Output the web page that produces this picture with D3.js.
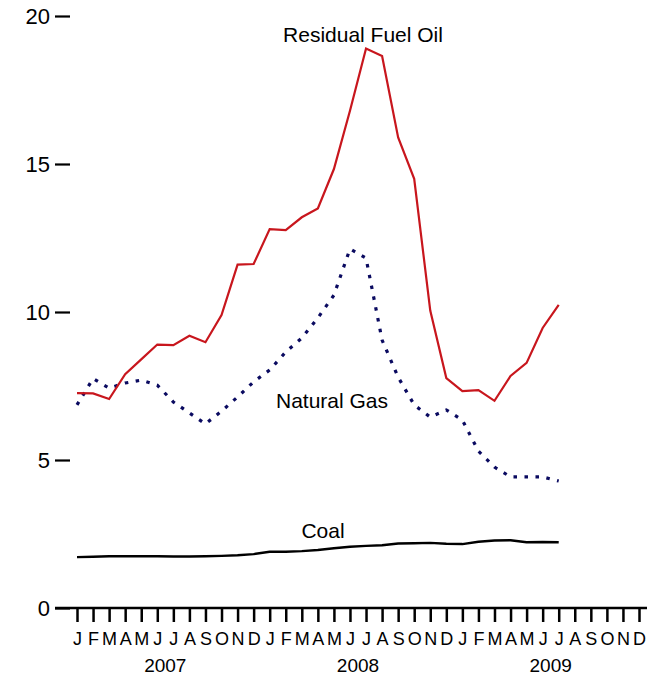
<!DOCTYPE html>
<html>
<head>
<meta charset="utf-8">
<script src="https://cdn.jsdelivr.net/npm/d3@7/dist/d3.min.js"></script>
<style>
  html, body { margin: 0; padding: 0; background: #fff; }
  svg { display: block; font-family: "Liberation Sans", Arial, Helvetica, sans-serif; }
</style>
</head>
<body>
<svg id="chart" width="655" height="677"></svg>
<script>
// Months Jan 2007 .. Dec 2009
const monthLetters = ["J","F","M","A","M","J","J","A","S","O","N","D"];
const years = ["2007", "2008", "2009"];
const yTicks = [0, 5, 10, 15, 20];

// Values Jan 2007 .. Jul 2009 (31 months)
const residualFuelOil = [7.26, 7.25, 7.06, 7.9, 8.4, 8.9, 8.88, 9.2, 8.98, 9.9, 11.6, 11.62,
                         12.8, 12.77, 13.2, 13.5, 14.83, 16.8, 18.9, 18.65, 15.9, 14.5, 10.05, 7.77,
                         7.33, 7.36, 7.0, 7.84, 8.28, 9.46, 10.24];
const naturalGas = [6.86, 7.75, 7.43, 7.6, 7.7, 7.53, 6.96, 6.59, 6.22, 6.65, 7.13, 7.64,
                    8.04, 8.65, 9.12, 9.8, 10.57, 12.13, 11.82, 9.05, 7.8, 6.86, 6.45, 6.69,
                    6.35, 5.3, 4.76, 4.43, 4.43, 4.43, 4.29];
const coal = [1.72, 1.73, 1.75, 1.75, 1.75, 1.75, 1.74, 1.74, 1.75, 1.76, 1.78, 1.82,
              1.9, 1.9, 1.92, 1.96, 2.02, 2.07, 2.1, 2.12, 2.18, 2.19, 2.2, 2.17,
              2.16, 2.24, 2.28, 2.29, 2.22, 2.23, 2.22];

const svg = d3.select("#chart");

const x = d3.scaleLinear().domain([0, 35]).range([77, 639]);
const y = d3.scaleLinear().domain([0, 20]).range([608, 16]);

// Y axis (ticks only, to the right of labels)
const yAxis = svg.append("g")
  .attr("transform", "translate(70,0)")
  .call(d3.axisLeft(y).tickValues(yTicks).tickSize(15).tickPadding(5).tickFormat(d3.format("d")));
yAxis.select(".domain").remove();
yAxis.selectAll(".tick line").attr("stroke", "#000").attr("stroke-width", 2.2);
yAxis.selectAll(".tick text").attr("fill", "#000").style("font-size", "22px")
  .style("font-family", "'Liberation Sans', Arial, sans-serif");

// X axis
const monthIdx = d3.range(36);
const xAxis = svg.append("g")
  .attr("transform", "translate(0,608)")
  .call(d3.axisBottom(x).tickValues(monthIdx).tickSize(14).tickPadding(10)
        .tickFormat(i => monthLetters[i % 12]));
xAxis.select(".domain").remove();
xAxis.append("line")
  .attr("x1", 55).attr("x2", 647).attr("y1", 0).attr("y2", 0)
  .attr("stroke", "#000").attr("stroke-width", 2.5);
xAxis.selectAll(".tick line").attr("stroke", "#000").attr("stroke-width", 2.5);
xAxis.selectAll(".tick text").attr("fill", "#000").style("font-size", "18px")
  .style("font-family", "'Liberation Sans', Arial, sans-serif");

// Year labels centered on each year
svg.append("g").selectAll("text").data(years).join("text")
  .attr("x", (d, i) => (x(i * 12) + x(i * 12 + 11)) / 2)
  .attr("y", 672)
  .attr("text-anchor", "middle")
  .style("font-size", "19px")
  .attr("fill", "#000")
  .text(d => d);

const line = d3.line().x((d, i) => x(i)).y(d => y(d));

svg.append("path").datum(coal)
  .attr("d", line).attr("fill", "none")
  .attr("stroke", "#000").attr("stroke-width", 2.4)
  .attr("stroke-linejoin", "round");

svg.append("path").datum(naturalGas)
  .attr("d", line).attr("fill", "none")
  .attr("stroke", "#0a0a60").attr("stroke-width", 3.2)
  .attr("stroke-dasharray", "3.5,7.5");

svg.append("path").datum(residualFuelOil)
  .attr("d", line).attr("fill", "none")
  .attr("stroke", "#c8161d").attr("stroke-width", 2.2)
  .attr("stroke-linejoin", "miter");

// Series labels
const labels = [
  {text: "Residual Fuel Oil", x: 363, y: 42},
  {text: "Natural Gas", x: 332, y: 408},
  {text: "Coal", x: 323, y: 538}
];
svg.append("g").selectAll("text").data(labels).join("text")
  .attr("x", d => d.x).attr("y", d => d.y)
  .attr("text-anchor", "middle")
  .style("font-size", "21px")
  .attr("fill", "#000")
  .text(d => d.text);
</script>
</body>
</html>
